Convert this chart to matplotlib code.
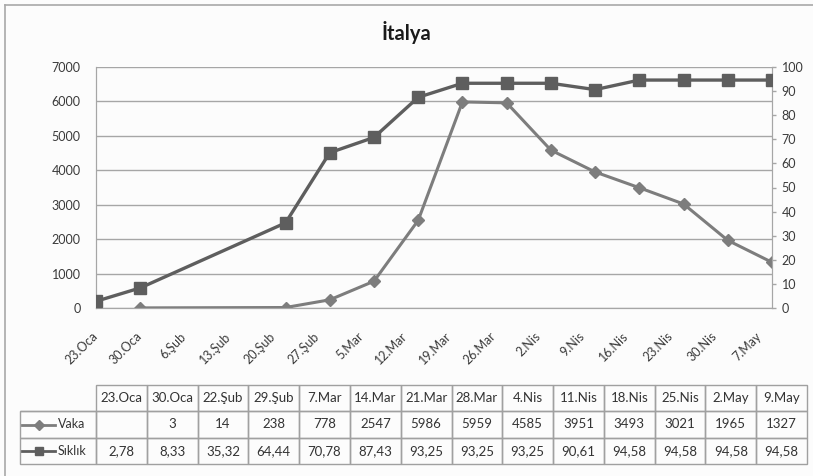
import matplotlib
matplotlib.use('Agg')
import matplotlib.pyplot as plt
import matplotlib.transforms as mtransforms
from matplotlib.lines import Line2D
import pandas as pd

plt.rcParams['font.family'] = ['Lato', 'DejaVu Sans']

dates = pd.to_datetime(['2020-01-23', '2020-01-30', '2020-02-22', '2020-02-29',
                        '2020-03-07', '2020-03-14', '2020-03-21', '2020-03-28',
                        '2020-04-04', '2020-04-11', '2020-04-18', '2020-04-25',
                        '2020-05-02', '2020-05-09'])
date_labels = ['23.Oca', '30.Oca', '22.Şub', '29.Şub', '7.Mar', '14.Mar', '21.Mar',
               '28.Mar', '4.Nis', '11.Nis', '18.Nis', '25.Nis', '2.May', '9.May']
vaka = [None, 3, 14, 238, 778, 2547, 5986, 5959, 4585, 3951, 3493, 3021, 1965, 1327]
siklik = [2.78, 8.33, 35.32, 64.44, 70.78, 87.43, 93.25, 93.25, 93.25, 90.61,
          94.58, 94.58, 94.58, 94.58]
tick_labels = ['23.Oca', '30.Oca', '6.Şub', '13.Şub', '20.Şub', '27.Şub', '5.Mar',
               '12.Mar', '19.Mar', '26.Mar', '2.Nis', '9.Nis', '16.Nis', '23.Nis',
               '30.Nis', '7.May']

W, H = 813, 476
fig = plt.figure(figsize=(W / 100, H / 100), dpi=100)
fig.patch.set_facecolor('#fcfcfc')
# chart frame: only the left and top edges are inside the picture
fig.lines.append(Line2D([5 / W, 5 / W], [0, 1 - 5 / H], transform=fig.transFigure,
                        color='#a8a8a8', lw=1.2))
fig.lines.append(Line2D([5 / W, 1], [1 - 5 / H, 1 - 5 / H], transform=fig.transFigure,
                        color='#a8a8a8', lw=1.2))

fig.text(0.5, 1 - 33 / H, 'İtalya', ha='center', va='center', fontsize=14.5,
         fontweight='bold', color='#1a1a1a')

grid_c = '#a6a6a6'
txt_c = '#3a3a3a'
vaka_c = '#7d7d7d'
sik_c = '#5e5e5e'

ax = fig.add_axes([96 / W, 168 / H, 676 / W, 241 / H])
ax.set_facecolor('none')
ax2 = ax.twinx()

vk = pd.Series(vaka, index=dates, dtype=float).dropna()
ax.plot(vk.index, vk.values, color=vaka_c, lw=2.2, marker='D', ms=6, zorder=3)
ax2.plot(dates, siklik, color=sik_c, lw=2.4, marker='s', ms=8, zorder=3)

ax.set_xlim(dates[0], dates[-1])
ticks = pd.date_range(dates[0], periods=len(tick_labels), freq='7D')
ax.set_xticks(ticks)
ax.set_xticklabels(tick_labels, rotation=45, ha='right', va='center',
                   rotation_mode='anchor', fontsize=9, color=txt_c)
off = mtransforms.ScaledTranslation(2 / 100, 0, fig.dpi_scale_trans)
for lab in ax.get_xticklabels():
    lab.set_transform(lab.get_transform() + off)
ax.tick_params(axis='x', length=0, pad=19)

ax.set_ylim(0, 7000)
ax.set_yticks(range(0, 7001, 1000))
ax.tick_params(axis='y', length=0, pad=11, labelsize=9, labelcolor=txt_c)
ax.grid(axis='y', color=grid_c, lw=1)
ax.set_axisbelow(True)

ax2.set_ylim(0, 100)
ax2.set_yticks(range(0, 101, 10))
ax2.tick_params(axis='y', length=3, width=1, color=grid_c, pad=4,
                labelsize=9, labelcolor=txt_c)

for a in (ax, ax2):
    a.spines['top'].set_visible(False)
    for s in ('left', 'right', 'bottom'):
        a.spines[s].set_color(grid_c)

# data table under the chart
tx0, tx1 = 20, 807
ty0, ty1 = 385, 464
axt = fig.add_axes([tx0 / W, 1 - ty1 / H, (tx1 - tx0) / W, (ty1 - ty0) / H])
axt.axis('off')
fmt = lambda v: '' if v is None else f'{v:.2f}'.replace('.', ',')
rows = [[''] + date_labels,
        [''] + ['' if v is None else str(v) for v in vaka],
        [''] + [fmt(v) for v in siklik]]
tw = tx1 - tx0
lab_w = 76 / tw
col_w = (1 - lab_w) / len(date_labels)
tab = axt.table(cellText=rows, cellLoc='center', colWidths=[lab_w] + [col_w] * len(date_labels),
                bbox=[0, 0, 1, 1])
tab.auto_set_font_size(False)
for (r, c), cell in tab.get_celld().items():
    cell.set_edgecolor('#a0a0a0')
    cell.set_linewidth(1)
    cell.set_facecolor('none')
    cell.get_text().set_fontsize(9.5)
    cell.get_text().set_color('#333333')
tab[0, 0].visible_edges = 'B'

names = ['Vaka', 'Sıklık']
markers = ['D', 's']
colors = [vaka_c, sik_c]
for i, (nm, mk, cl) in enumerate(zip(names, markers, colors)):
    yc = 1 - (i + 1.5) / 3
    axt.plot([2 / tw, 35 / tw], [yc, yc], color=cl, lw=2, transform=axt.transAxes, clip_on=False)
    axt.plot([18.5 / tw], [yc], color=cl, marker=mk, ms=5 if mk == 'D' else 6,
             transform=axt.transAxes, clip_on=False)
    axt.text(38 / tw, yc, nm, ha='left', va='center', fontsize=9, color='#333333',
             transform=axt.transAxes)

fig.savefig('out.png', dpi=100, facecolor=fig.get_facecolor())
